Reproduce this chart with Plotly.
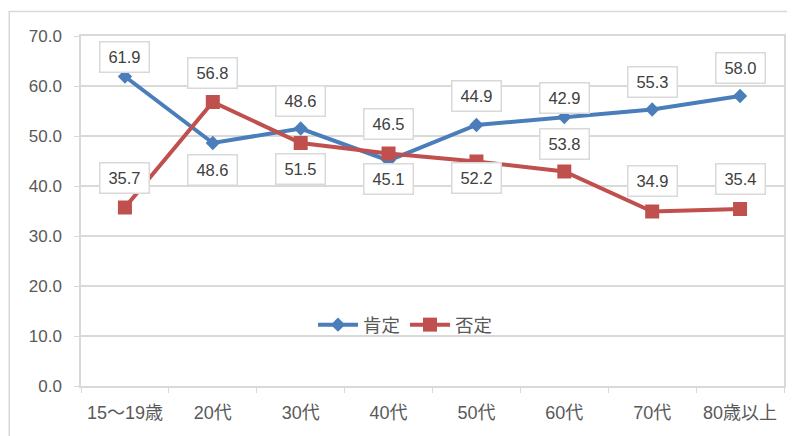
import plotly.graph_objects as go

categories = ["15～19歳", "20代", "30代", "40代", "50代", "60代", "70代", "80歳以上"]
positive = [61.9, 48.6, 51.5, 45.1, 52.2, 53.8, 55.3, 58.0]   # 肯定
negative = [35.7, 56.8, 48.6, 46.5, 44.9, 42.9, 34.9, 35.4]   # 否定

series = {"pos": positive, "neg": negative}

# label placement: (text series, index, anchor series, vertical shift in px)
label_specs = [
    ("pos", 0, "pos", 20), ("neg", 0, "neg", 30),
    ("neg", 1, "neg", 29), ("pos", 1, "pos", -27),
    ("neg", 2, "pos", 27.5), ("pos", 2, "neg", -26),
    ("neg", 3, "neg", 29.5), ("pos", 3, "pos", -18.5),
    ("neg", 4, "pos", 29), ("pos", 4, "neg", -16.5),
    ("neg", 5, "pos", 19), ("pos", 5, "neg", 27.5),
    ("pos", 6, "pos", 27.5), ("neg", 6, "neg", 31),
    ("pos", 7, "pos", 28.5), ("neg", 7, "neg", 30),
]

BLUE = "#4A7EBB"
RED = "#C0504D"
GRID = "#D9D9D9"
TXT = "#595959"
FONT = "Liberation Sans, Noto Sans CJK JP, sans-serif"

fig = go.Figure()
fig.add_trace(go.Scatter(
    x=categories, y=positive, name="肯定", mode="lines+markers",
    line=dict(color=BLUE, width=4),
    marker=dict(symbol="diamond", size=11, color=BLUE),
))
fig.add_trace(go.Scatter(
    x=categories, y=negative, name="否定", mode="lines+markers",
    line=dict(color=RED, width=4),
    marker=dict(symbol="square", size=14, color=RED),
))

annotations = []
for txt_s, i, anc_s, shift in label_specs:
    annotations.append(dict(
        x=categories[i], y=series[anc_s][i], xref="x", yref="y",
        text=f"{series[txt_s][i]:.1f}", showarrow=False,
        yshift=shift, font=dict(size=16.5, color="#404040", family=FONT),
        bgcolor="white", bordercolor=GRID, borderwidth=1.5, borderpad=3,
        width=42, height=23,
    ))

fig.update_layout(
    width=787, height=428,
    margin=dict(l=73, r=9, t=27.5, b=50),
    paper_bgcolor="white", plot_bgcolor="white",
    font=dict(family=FONT, color=TXT, size=16),
    showlegend=True,
    legend=dict(orientation="h", x=0.33, y=0.174, xanchor="left", yanchor="middle",
                bgcolor="rgba(0,0,0,0)", font=dict(size=18.5, color=TXT),
                itemwidth=40, tracegroupgap=0),
    annotations=annotations,
    shapes=[dict(type="rect", xref="paper", yref="paper",
                 x0=-0.1021, y0=-1, x1=2, y1=1.0699,
                 line=dict(color=GRID, width=1.5), layer="below")],
)
fig.update_xaxes(
    type="category", range=[-0.5, 7.5], showgrid=False,
    showline=True, linecolor=GRID, linewidth=1.5, mirror=True,
    ticks="outside", tickson="boundaries", ticklen=5, tickcolor=GRID,
    tickfont=dict(size=18, color=TXT), ticklabelstandoff=10,
)
fig.update_yaxes(
    range=[0, 70], dtick=10, tickformat=".1f",
    showgrid=True, gridcolor=GRID, gridwidth=1.5,
    showline=True, linecolor=GRID, linewidth=1.5, mirror=True,
    ticks="outside", ticklen=5, tickcolor=GRID,
    tickfont=dict(size=17, color=TXT), zeroline=False, ticklabelstandoff=9,
)

fig.write_html("out.html")
